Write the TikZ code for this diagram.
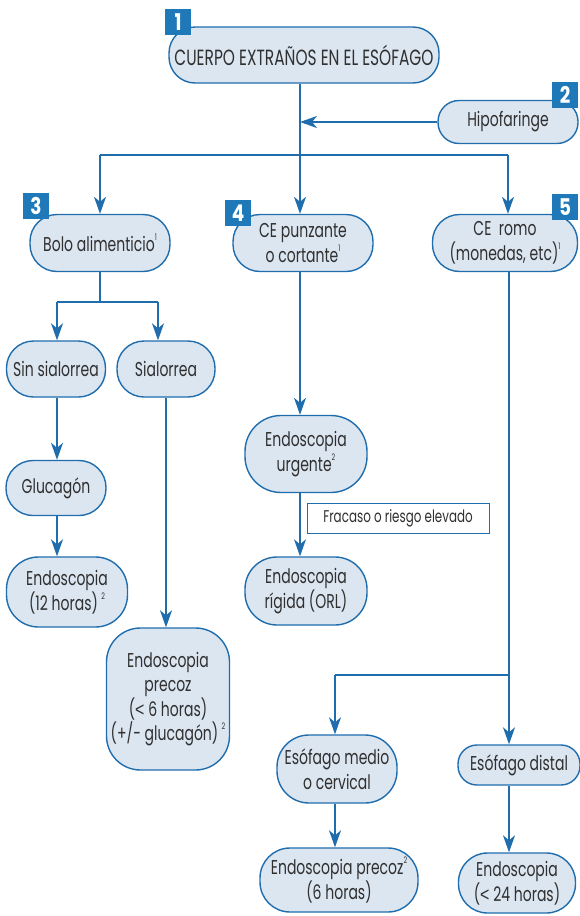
\documentclass[tikz,border=0pt]{standalone}
\usepackage{fontspec}
\setmainfont{Poppins}[FakeStretch=0.7]
\newfontfamily\badgefont{Poppins}[FakeStretch=0.8]
\newfontfamily\symf{Liberation Sans}[FakeStretch=0.8]
\usetikzlibrary{arrows.meta}
\definecolor{bfill}{HTML}{DCE6F1}
\definecolor{bline}{HTML}{1F6DAD}
\definecolor{badge}{HTML}{1F78B8}
\definecolor{txt}{HTML}{303030}
\newcommand\sups[1]{\raisebox{0.55em}{\fontsize{9}{9}\selectfont #1}}
\newcommand\lt{{\symf <}}
\begin{document}
\begin{tikzpicture}[x=1pt,y=-1pt,
  box/.style={draw=bline, fill=bfill, line width=1.4pt, rounded corners=24pt, align=center, text=txt, font=\fontsize{20}{24.5}\selectfont, inner sep=0pt},
  num/.style={fill=badge, text=white, font=\badgefont\bfseries\fontsize{23}{23}\selectfont, minimum size=26pt, inner sep=0pt},
  arr/.style={draw=bline, line width=1.4pt, -{Stealth[length=17pt,width=12pt,inset=5pt]}},
  ln/.style={draw=bline, line width=1.4pt},
  lbl/.style={draw=bline, fill=white, line width=1pt, text=txt, font=\fontsize{17}{18}\selectfont, minimum width=182pt, minimum height=30pt, inner sep=0pt}]
\useasboundingbox (0,0) rectangle (580,916);

% boxes
\node[box, minimum width=270pt, minimum height=56pt, rounded corners=26pt, font=\fontsize{22}{24}\selectfont] (top) at (304,55) {CUERPO EXTRAÑOS EN EL ESÓFAGO};
\node[box, minimum width=140pt, minimum height=43pt, rounded corners=21pt] (hipo) at (508,122) {Hipofaringe};
\node[box, minimum width=140pt, minimum height=57pt, rounded corners=27pt] (bolo) at (100,243) {Bolo alimenticio\sups{1}};
\node[box, minimum width=140pt, minimum height=57pt, rounded corners=27pt] (punz) at (303,243) {CE punzante\\o cortante\sups{1}};
\node[box, minimum width=145pt, minimum height=57pt, rounded corners=27pt] (romo) at (505,243) {CE\ \ romo\\(monedas, etc)\sups{1}};
\node[box, minimum width=99pt, minimum height=56pt, rounded corners=27pt] (sinsial) at (56,369) {Sin sialorrea};
\node[box, minimum width=98pt, minimum height=56pt, rounded corners=27pt] (sial) at (166,369) {Sialorrea};
\node[box, minimum width=100pt, minimum height=55pt, rounded corners=27pt] (gluc) at (56,488) {Glucagón};
\node[box, minimum width=121pt, minimum height=70pt, rounded corners=32pt] (endoa) at (67,592) {Endoscopia\\(12 horas)\,\sups{2}};
\node[box, minimum width=123pt, minimum height=142pt, rounded corners=34pt] (precoz) at (168,699) {Endoscopia\\precoz\\(\lt\ 6 horas)\\(+/- glucagón)\,\sups{2}};
\node[box, minimum width=122pt, minimum height=77pt, rounded corners=36pt] (urg) at (306,454) {Endoscopia\\urgente\sups{2}};
\node[box, minimum width=122pt, minimum height=68pt, rounded corners=32pt] (rig) at (306,591) {Endoscopia\\rígida (ORL)};
\node[lbl] (fr) at (398,518) {Fracaso o riesgo elevado};
\node[box, minimum width=120pt, minimum height=68pt, rounded corners=32pt] (medio) at (337,769) {Esófago medio\\o cervical};
\node[box, minimum width=158pt, minimum height=64pt, rounded corners=30pt] (precozb) at (339,880) {Endoscopia precoz\sups{2}\\(6 horas)};
\node[box, minimum width=122pt, minimum height=40pt, rounded corners=19pt] (distal) at (519,765) {Esófago distal};
\node[box, minimum width=117pt, minimum height=60pt, rounded corners=29pt] (endob) at (517,883) {Endoscopia\\(\lt\ 24 horas)};

% badges
\node[num] (b1) at (178,22) {1};
\node[num] (b2) at (565,95) {2};
\node[num] (b3) at (36,206) {3};
\node[num] (b4) at (238,213) {4};
\node[num] (b5) at (565,207) {5};

% junctions
\coordinate (j1) at (300,155);
\coordinate (jl) at (100,155);
\coordinate (jr) at (508,155);
\coordinate (j2) at (100,302);
\coordinate (jl2) at (57,302);
\coordinate (jr2) at (158,302);
\coordinate (j3) at (509,675);
\coordinate (jl3) at (335,675);

% connectors
\draw[ln] (top.south -| j1) -- (j1);
\draw[arr] (hipo.west) -- (hipo.west -| j1);
\draw[ln] (jl) -- (jr);
\draw[arr] (jl) -- (bolo.north);
\draw[arr] (j1) -- (j1 |- punz.north);
\draw[arr] (jr) -- (jr |- romo.north);

\draw[ln] (bolo.south) -- (j2);
\draw[ln] (jl2) -- (jr2);
\draw[arr] (jl2) -- (jl2 |- sinsial.north);
\draw[arr] (jr2) -- (jr2 |- sial.north);
\draw[arr] (sinsial.south -| jl2) -- (jl2 |- gluc.north);
\draw[arr] (gluc.south -| jl2) -- (jl2 |- endoa.north);
\draw[arr] (sial.south) -- (sial.south |- precoz.north);

\draw[arr] (punz.south -| j1) -- (j1 |- urg.north);
\draw[arr] (urg.south -| j1) -- (j1 |- rig.north);

\draw[ln] (romo.south -| j3) -- (j3);
\draw[arr] (j3) -- (j3 |- distal.north);
\draw[ln] (j3) -- (jl3);
\draw[arr] (jl3) -- (jl3 |- medio.north);
\draw[arr] (medio.south -| jl3) -- (jl3 |- precozb.north);
\draw[arr] (distal.south -| j3) -- (j3 |- endob.north);
\end{tikzpicture}
\end{document}
